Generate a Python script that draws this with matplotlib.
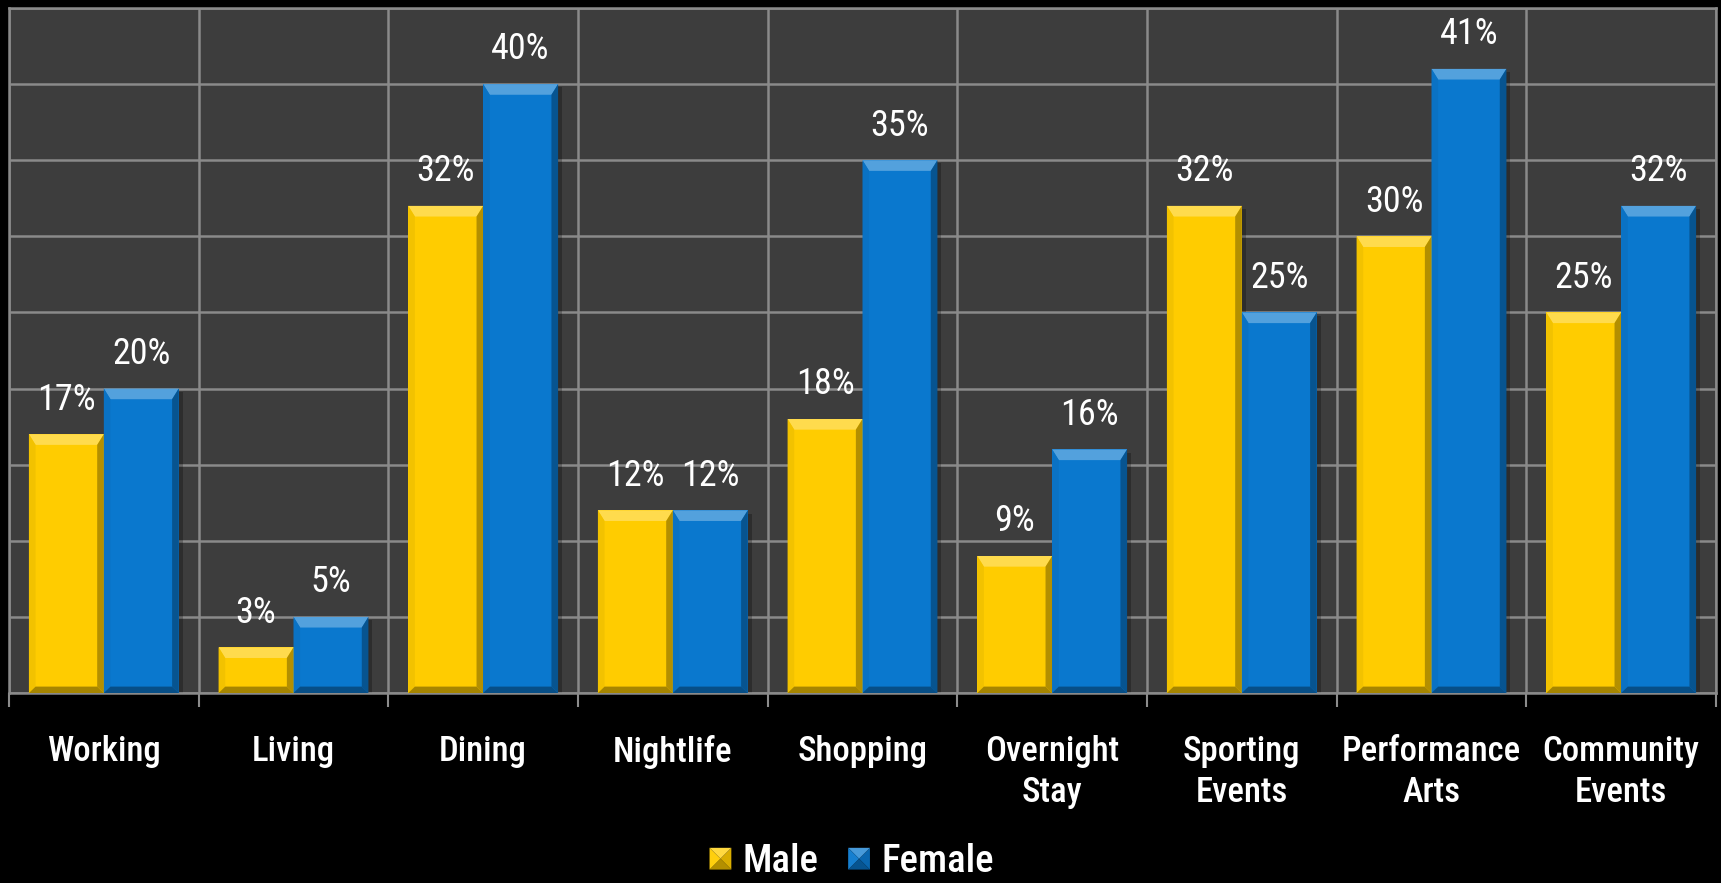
import numpy as np
import matplotlib.pyplot as plt
from matplotlib.patches import Polygon, Rectangle
from matplotlib.legend_handler import HandlerBase

# Share of respondents per activity, by gender (%)
categories = ["Working", "Living", "Dining", "Nightlife", "Shopping",
              "Overnight\nStay", "Sporting\nEvents", "Performance\nArts",
              "Community\nEvents"]
male = [17, 3, 32, 12, 18, 9, 32, 30, 25]
female = [20, 5, 40, 12, 35, 16, 25, 41, 32]

GOLD = "#FFCC00"
BLUE = "#0A78CE"
FONT = ["Roboto Condensed", "DejaVu Sans Condensed", "Liberation Sans Narrow",
        "Liberation Sans", "DejaVu Sans"]

plt.rcParams["font.family"] = FONT


def shade(color, f):
    # f > 0 blends toward white, f < 0 toward black
    c = np.array(plt.matplotlib.colors.to_rgb(color))
    if f >= 0:
        return tuple(c + (1 - c) * f)
    return tuple(c * (1 + f))


def bevel_bar(ax, x0, w, h, color, bx, by):
    # flat face plus four bevelled edges and a soft drop shadow
    ax.add_patch(Rectangle((x0 + bx * 0.6, 0), w, h - by * 0.3, color="black",
                           alpha=0.25, zorder=2, lw=0))
    ax.add_patch(Rectangle((x0, 0), w, h, color=color, zorder=3, lw=0))
    x1 = x0 + w
    top = [(x0, h), (x1, h), (x1 - bx, h - by), (x0 + bx, h - by)]
    bot = [(x0, 0), (x1, 0), (x1 - bx, by * 0.6), (x0 + bx, by * 0.6)]
    left = [(x0, 0), (x0, h), (x0 + bx, h - by), (x0 + bx, by * 0.6)]
    right = [(x1, 0), (x1, h), (x1 - bx, h - by), (x1 - bx, by * 0.6)]
    ax.add_patch(Polygon(top, closed=True, color=shade(color, 0.3), zorder=4, lw=0))
    ax.add_patch(Polygon(left, closed=True, color=shade(color, -0.05), zorder=4, lw=0))
    ax.add_patch(Polygon(right, closed=True, color=shade(color, -0.3), zorder=4, lw=0))
    ax.add_patch(Polygon(bot, closed=True, color=shade(color, -0.35), zorder=4, lw=0))


class BevelHandler(HandlerBase):
    def create_artists(self, legend, orig, xd, yd, width, height, fontsize, trans):
        c = orig.get_facecolor()
        s = min(width, height)
        x0, y0 = xd + (width - s) / 2 - xd * 2, -yd
        cx, cy = x0 + s / 2, y0 + s / 2
        pts = [(x0, y0), (x0 + s, y0), (x0 + s, y0 + s), (x0, y0 + s)]
        tones = [-0.3, -0.15, 0.25, 0.05]
        arts = []
        for i in range(4):
            tri = Polygon([pts[i], pts[(i + 1) % 4], (cx, cy)], closed=True,
                          color=shade(c, tones[i]), lw=0, transform=trans)
            arts.append(tri)
        return arts


fig = plt.figure(figsize=(17.21, 8.83), dpi=100, facecolor="black")
ax = fig.add_axes([9 / 1721, 1 - 693 / 883, (1716 - 9) / 1721, (693 - 8) / 883])
ax.set_facecolor("#3D3D3D")

n = len(categories)
x = np.arange(n)
bw = 0.395
ax.set_xlim(-0.5, n - 0.5)
ax.set_ylim(0, 45)

bx = 0.035
by = 0.7
for i in range(n):
    bevel_bar(ax, x[i] - bw, bw, male[i], GOLD, bx, by)
    bevel_bar(ax, x[i], bw, female[i], BLUE, bx, by)
    ax.annotate(f"{male[i]}%", (x[i] - bw / 2, male[i]), xytext=(0, 12),
                textcoords="offset points", ha="center", va="bottom",
                color="white", fontsize=26, zorder=6)
    ax.annotate(f"{female[i]}%", (x[i] + bw / 2, female[i]), xytext=(0, 12),
                textcoords="offset points", ha="center", va="bottom",
                color="white", fontsize=26, zorder=6)

# grid: horizontal every 5%, vertical at category boundaries
ax.set_yticks(np.arange(0, 46, 5))
ax.set_xticks(np.arange(-0.5, n, 1))
ax.set_xticks(x, minor=True)
ax.set_xticklabels([], minor=False)
ax.set_xticklabels(categories, minor=True, color="white", fontsize=25,
                   fontweight="medium", linespacing=1.32)
ax.tick_params(axis="x", which="major", length=10, width=1.5, color="#8C8C8C")
ax.tick_params(axis="x", which="minor", length=0, pad=30)
ax.tick_params(axis="y", length=0, labelleft=False)
ax.grid(True, which="major", color="#8A8A8A", lw=1.8, zorder=1)
ax.set_axisbelow(True)
for sp in ax.spines.values():
    sp.set_color("#8A8A8A")
    sp.set_linewidth(1.8)

hm = Rectangle((0, 0), 1, 1, facecolor=GOLD)
hf = Rectangle((0, 0), 1, 1, facecolor=BLUE)
fig.legend([hm, hf], ["Male", "Female"], loc="center", ncol=2,
           bbox_to_anchor=(0.495, 1 - 861 / 883), frameon=False,
           prop={"size": 28, "weight": "medium"}, labelcolor="white",
           handlelength=0.56, handleheight=0.56,
           handletextpad=0.3, columnspacing=0.75, borderpad=0.1,
           handler_map={Rectangle: BevelHandler()})

fig.savefig("out.png", dpi=100, facecolor="black")
